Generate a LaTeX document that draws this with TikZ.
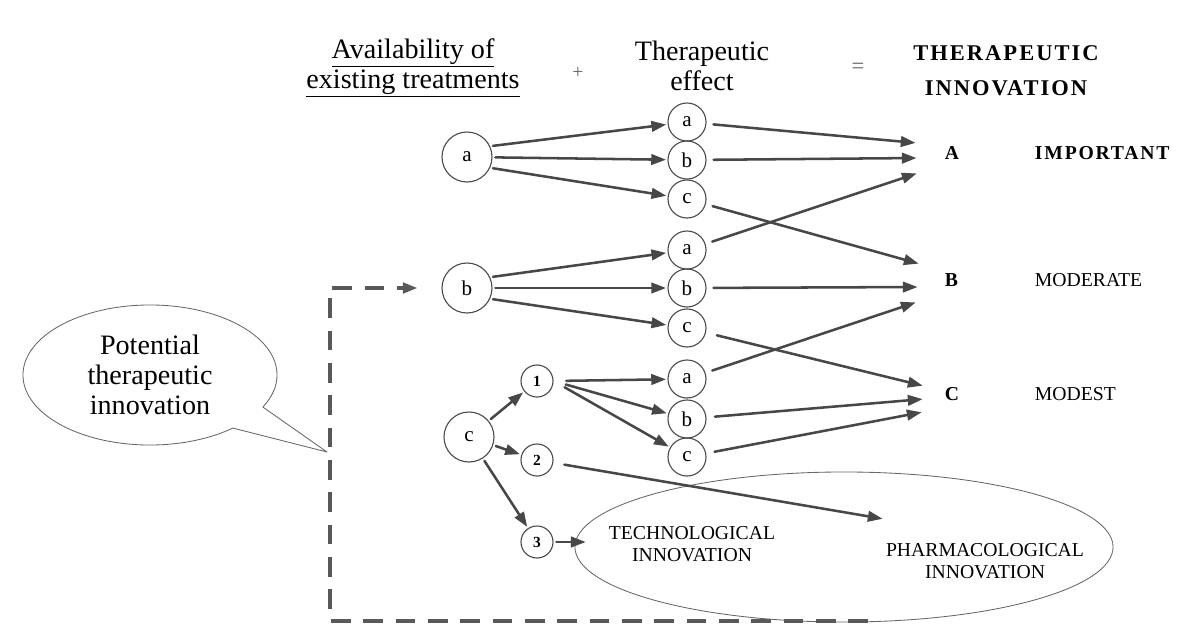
\documentclass[tikz,border=0pt]{standalone}
\usepackage{fontspec}
\setmainfont{Liberation Serif}
\newfontfamily\spacedfont[LetterSpace=9]{Liberation Serif}
\usepackage{tikz}
\usetikzlibrary{positioning,arrows.meta,shapes.geometric,shapes.callouts}

\begin{document}
\begin{tikzpicture}[x=0.025cm, y=-0.025cm, >={Triangle[length=10.5pt,width=7.5pt]}, line cap=round, line join=round,
	big/.style={circle, draw=black!70, line width=0.8pt, minimum size=1.25cm, inner sep=0pt, font=\fontsize{15}{15}\selectfont},
	effect/.style={circle, draw=black!70, line width=0.8pt, minimum size=0.95cm, inner sep=0pt, font=\fontsize{15}{15}\selectfont},
	num/.style={circle, draw=black!70, line width=0.8pt, minimum size=0.8cm, inner sep=0pt, font=\bfseries\fontsize{11}{11}\selectfont},
	link/.style={->, draw=black!72, line width=1.8pt, shorten <=2pt, shorten >=1pt},
	feedback/.style={->, draw=black!65, line width=2.4pt, dash pattern=on 14pt off 9pt, line cap=butt},
	head/.style={align=center, font=\fontsize{20}{21.5}\selectfont},
	level/.style={anchor=west, font=\bfseries\fontsize{14}{14}\selectfont},
	grade/.style={anchor=west, font=\fontsize{14}{14}\selectfont},
	caps/.style={align=center, font=\fontsize{14}{15.5}\selectfont}]
	\useasboundingbox (0,0) rectangle (1199,633);

	% headings
	\node[head] (hAvail) at (413,68) {\underline{Availability of}\\\underline{existing treatments}};
	\node[text=black!60, font=\fontsize{14}{14}\selectfont] (hPlus) at (578,73) {+};
	\node[head] (hEffect) at (702,66) {Therapeutic\\effect};
	\node[text=black!60, font=\fontsize{16}{16}\selectfont] (hEq) at (858,68) {=};
	\node[align=center, font=\spacedfont\bfseries\fontsize{16}{25}\selectfont] (hInnov) at (1006,71) {THERAPEUTIC\\INNOVATION};

	% availability of existing treatments
	\node[big] (avA) at (467,157) {a};
	\node[big] (avB) at (467,288) {b};
	\node[big] (avC) at (469,437) {c};
	\node[num] (sub1) at (537,381) {1};
	\node[num] (sub2) at (537,460) {2};
	\node[num] (sub3) at (537,542) {3};

	% therapeutic effect
	\foreach \n/\l/\y in {ea1/a/122, eb1/b/160, ec1/c/199, ea2/a/250, eb2/b/288, ec2/c/328, ea3/a/379, eb3/b/419, ec3/c/457}
		\node[effect] (\n) at (687,\y) {\l};

	% levels of innovation
	\node[level] (lvA) at (940,153) {A};
	\node[level] (lvB) at (940,280) {B};
	\node[level] (lvC) at (940,394) {C};
	\node[anchor=west, font=\spacedfont\bfseries\fontsize{14}{14}\selectfont] (gradeA) at (1030,153) {IMPORTANT};
	\node[grade] (gradeB) at (1030,280) {MODERATE};
	\node[grade] (gradeC) at (1030,394) {MODEST};
	\coordinate (inA1) at (917,143);
	\coordinate (inA2) at (918,158);
	\coordinate (inA3) at (918,173);
	\coordinate (inB1) at (920,264);
	\coordinate (inB2) at (919,287);
	\coordinate (inB3) at (917,302);
	\coordinate (inC1) at (924,386);
	\coordinate (inC2) at (924,399);
	\coordinate (inC3) at (923,412);

	% innovation ellipse
	\node[ellipse, draw=black!60, line width=0.6pt, minimum width=13.45cm, minimum height=3.75cm] (innov) at (844,547) {};
	\node[caps] (tech) at (692,544) {TECHNOLOGICAL\\INNOVATION};
	\node[caps] (pharm) at (985,561) {PHARMACOLOGICAL\\INNOVATION};
	\coordinate (inPh) at (884,519);

	% potential therapeutic innovation
	\coordinate (bubbleTip) at (327,452);
	\node[ellipse callout, draw=black!60, line width=0.6pt, minimum width=6.35cm, minimum height=3.5cm,
		callout absolute pointer=(bubbleTip), callout pointer arc=22, align=center,
		font=\fontsize{20}{21.5}\selectfont] (bubble) at (150,375) {Potential\\therapeutic\\innovation};

	% first step
	\draw[link] (avA.25) -- (ea1);
	\draw[link] (avA) -- (eb1);
	\draw[link] (avA.-25) -- (ec1);
	\draw[link] (avB.25) -- (ea2);
	\draw[link] (avB) -- (eb2);
	\draw[link] (avB.-25) -- (ec2);
	\draw[link] (avC) -- (sub1);
	\draw[link] (avC) -- (sub2);
	\draw[link] (avC) -- (sub3);
	\draw[link, shorten <=9pt] (sub1.east) -- (ea3);
	\draw[link, shorten <=9pt] (sub1.east) -- (eb3);
	\draw[link, shorten <=9pt] (sub1.east) -- (ec3);
	\draw[link, shorten <=8pt] (sub2) -- (inPh);
	\draw[link, shorten >=-8pt] (sub3) -- (sub3 -| innov.west);

	% second step
	\draw[link, shorten <=5pt] (ea1) -- (inA1);
	\draw[link, shorten <=5pt] (eb1) -- (inA2);
	\draw[link, shorten <=5pt] (ea2) -- (inA3);
	\draw[link, shorten <=5pt] (ec1) -- (inB1);
	\draw[link, shorten <=5pt] (eb2) -- (inB2);
	\draw[link, shorten <=5pt] (ea3) -- (inB3);
	\draw[link, shorten <=8pt] (ec2) -- (inC1);
	\draw[link, shorten <=6pt] (eb3) -- (inC2);
	\draw[link, shorten <=6pt] (ec3) -- (inC3);

	% feedback loop
	\coordinate (fbEnd) at (868,621);
	\coordinate (fbLow) at (330,621);
	\coordinate (fbHigh) at (330,288);
	\draw[feedback, shorten >=17pt] (fbEnd) -- (fbLow) -- (fbHigh) -- (avB.west);
\end{tikzpicture}
\end{document}
